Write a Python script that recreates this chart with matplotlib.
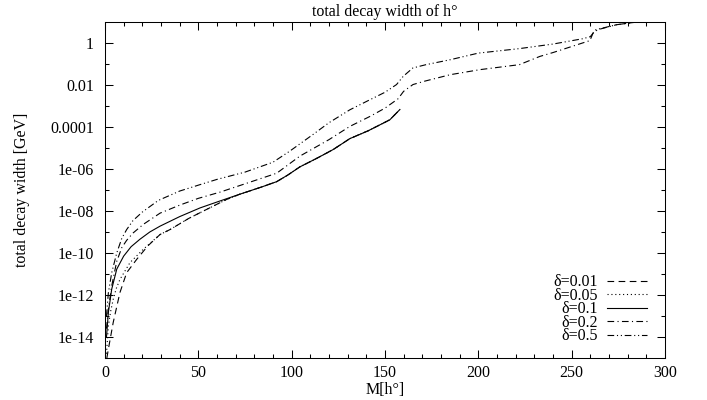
import matplotlib
matplotlib.use('Agg')
from matplotlib import pyplot as plt
from matplotlib.ticker import FixedLocator, FixedFormatter, MultipleLocator, NullFormatter

# values (M in GeV, width in GeV)
M_05 = [0.8, 1.8, 3.6, 6.3, 9, 11.6, 15, 20, 28.6, 40, 50.9, 60, 75, 90, 99, 111.6, 120, 131.2, 142,
        150, 156.2, 159.8, 165, 172, 185, 200, 222, 240, 256, 260, 263, 274, 285, 290]
w_05 = [1.0e-13, 1.26e-12, 1.15e-11, 1.0e-10, 5.0e-10, 1.3e-9, 3.5e-9, 8.9e-9, 3.2e-8, 8.9e-8, 1.8e-7,
        3.2e-7, 7.1e-7, 2.1e-6, 7.1e-6, 4.5e-5, 1.6e-4, 6.6e-4, 2.0e-3, 4.5e-3, 1.05e-2, 2.6e-2, 6.5e-2,
        9.3e-2, 0.16, 0.33, 0.54, 0.89, 1.6, 2.0, 4.3, 7.4, 10, 11.2]

M_02 = [0.8, 1.8, 3.6, 6.3, 9, 11.6, 15, 20.5, 29.5, 40, 50, 61.6, 70, 92, 104.4, 120, 131.2, 142, 150,
        157, 160, 165, 171, 185, 201, 222, 233, 240, 259.8, 261.5, 264, 274, 285, 290]
w_02 = [2.5e-14, 2.1e-13, 2.7e-12, 4.0e-11, 1.8e-10, 4.0e-10, 8.9e-10, 2.3e-9, 7.9e-9, 1.9e-8, 4.0e-8,
        7.9e-8, 1.4e-7, 6.3e-7, 4.1e-6, 2.5e-5, 1.07e-4, 3.2e-4, 7.9e-4, 2.2e-3, 5.0e-3, 1.05e-2, 1.5e-2,
        3.1e-2, 5.4e-2, 9.3e-2, 0.23, 0.35, 1.3, 3.0, 4.3, 7.4, 10, 11.2]

M_01 = [0.8, 1.8, 3.6, 6.3, 10, 14, 18.7, 24, 29.5, 40, 50.9, 61.6, 72, 84, 92, 98, 104.4, 113.4,
        122.3, 131.2, 141, 152.6, 158]
w_01 = [1.0e-14, 1.45e-13, 1.9e-12, 1.7e-11, 7.1e-11, 2.0e-10, 4.5e-10, 1.0e-9, 1.9e-9, 5.4e-9, 1.4e-8,
        3.0e-8, 6.2e-8, 1.4e-7, 2.5e-7, 5.2e-7, 1.26e-6, 3.2e-6, 8.5e-6, 2.8e-5, 6.6e-5, 2.2e-4, 6.8e-4]

M_005 = [0.8, 1.8, 3, 4.4, 6, 8, 13.4, 20.5, 29.5, 34.8, 45, 55, 65, 72, 84, 92, 98, 104.4, 113.4,
         122.3, 131.2, 141, 152.6, 158]
w_005 = [1.6e-15, 3.3e-14, 1.6e-13, 6.2e-13, 2.0e-12, 5.5e-12, 3.5e-11, 1.5e-10, 7.6e-10, 1.3e-9,
         4.5e-9, 1.26e-8, 3.5e-8, 6.2e-8, 1.4e-7, 2.5e-7, 5.2e-7, 1.26e-6, 3.2e-6, 8.5e-6, 2.8e-5,
         6.6e-5, 2.2e-4, 6.8e-4]

M_001 = [1.0, 1.8, 4.4, 8, 11.6, 17, 23, 29.5, 34.8, 45, 55, 65, 72, 84, 92, 98, 104.4, 113.4, 122.3,
         131.2, 141, 152.6, 158]
w_001 = [1.0e-15, 2.6e-15, 4.9e-14, 1.3e-12, 1.15e-11, 5.0e-11, 2.2e-10, 7.6e-10, 1.3e-9, 4.5e-9,
         1.26e-8, 3.5e-8, 6.2e-8, 1.4e-7, 2.5e-7, 5.2e-7, 1.26e-6, 3.2e-6, 8.5e-6, 2.8e-5, 6.6e-5,
         2.2e-4, 6.8e-4]

ytick_vals = [1, 1e-2, 1e-4, 1e-6, 1e-8, 1e-10, 1e-12, 1e-14]
ytick_labels = ['1', '0.01', '0.0001', '1e-06', '1e-08', '1e-10', '1e-12', '1e-14']
yminor_vals = [1e-1, 1e-3, 1e-5, 1e-7, 1e-9, 1e-11, 1e-13, 1e-15]

plt.rcParams['font.family'] = ['Liberation Serif', 'DejaVu Serif']
plt.rcParams['font.size'] = 11.5

fig = plt.figure(figsize=(7.07, 4.0), dpi=100)
ax = fig.add_axes([0.1485, 0.105, 0.792, 0.84])

lw = 0.8
ax.plot(M_001, w_001, color='k', lw=lw, ls=(0, (6, 4)), label='δ=0.01')
ax.plot(M_005, w_005, color='k', lw=lw, ls=(0, (1, 2.5)), label='δ=0.05')
ax.plot(M_01, w_01, color='k', lw=lw, ls='-', label='δ=0.1')
ax.plot(M_02, w_02, color='k', lw=lw, ls=(0, (6, 3, 1, 3)), label='δ=0.2')
ax.plot(M_05, w_05, color='k', lw=lw, ls=(0, (6, 2.5, 1, 2.5, 1, 2.5)), label='δ=0.5')

ax.set_yscale('log')
ax.set_xlim(0, 300)
ax.set_ylim(1e-15, 10)
ax.yaxis.set_major_locator(FixedLocator(ytick_vals))
ax.yaxis.set_major_formatter(FixedFormatter(ytick_labels))
ax.yaxis.set_minor_locator(FixedLocator(yminor_vals))
ax.yaxis.set_minor_formatter(NullFormatter())
ax.xaxis.set_major_locator(MultipleLocator(50))
ax.xaxis.set_minor_locator(MultipleLocator(10))
ax.tick_params(which='both', direction='in', top=True, right=True, width=0.75)
ax.tick_params(which='major', length=6)
ax.tick_params(which='minor', length=3)
ax.tick_params(axis='y', pad=8)
ax.tick_params(axis='x', pad=5)
for s in ax.spines.values():
    s.set_linewidth(0.75)

ax.set_title('total decay width of h°', pad=4, fontsize=11.5)
ax.set_xlabel('M[h°]', labelpad=1)
ax.set_ylabel('total decay width [GeV]')
ax.yaxis.set_label_coords(-0.134, 0.5)

ax.legend(loc='lower right', bbox_to_anchor=(0.968, 0.041), frameon=False, markerfirst=False,
          handlelength=2.5, handletextpad=0.56, labelspacing=-0.16, borderpad=0, borderaxespad=0)

fig.savefig('out.png', dpi=100)
